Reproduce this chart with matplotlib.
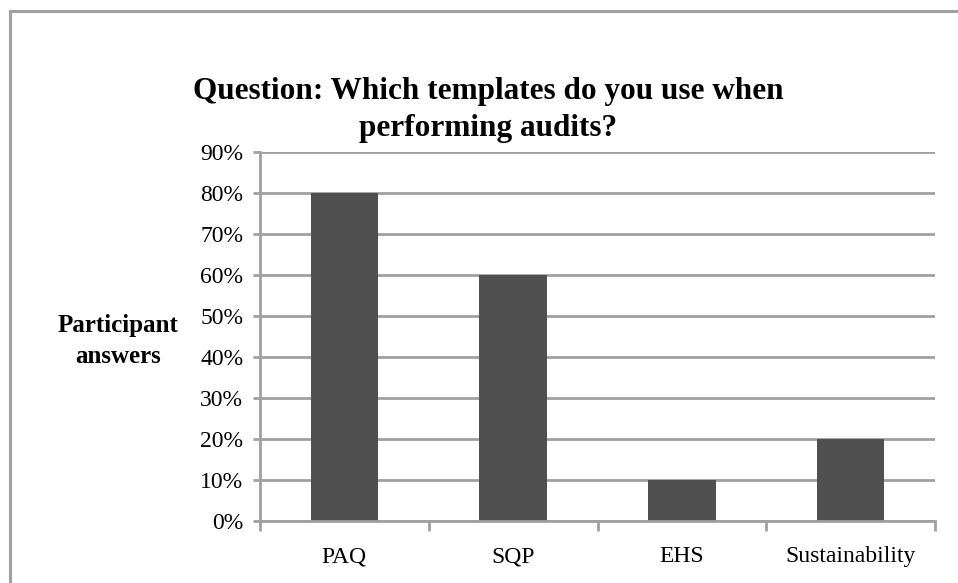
import matplotlib
matplotlib.use("Agg")
import matplotlib.pyplot as plt
from matplotlib.patches import Rectangle

categories = ["PAQ", "SQP", "EHS", "Sustainability"]
values = [80, 60, 10, 20]
yticks = [0, 10, 20, 30, 40, 50, 60, 70, 80, 90]
ytick_labels = [f"{v}%" for v in yticks]

W, H = 958, 583
fig = plt.figure(figsize=(W / 100, H / 100), dpi=100)
fig.patch.set_facecolor("white")

serif = ["Liberation Serif", "DejaVu Serif"]

# outer chart border
fig.patches.append(Rectangle((9.5 / W, -0.05), 1.2, 1 - 10.5 / H + 0.05,
                             transform=fig.transFigure, fill=False,
                             edgecolor="#a0a0a0", linewidth=2.2))

left, right, top, bottom = 260, 935, 152, 521
ax = fig.add_axes([left / W, 1 - bottom / H, (right - left) / W, (bottom - top) / H])

grid_c = "#a0a0a0"
x = list(range(len(categories)))
ax.bar(x, values, width=0.4, color="#505050", zorder=3)
ax.set_xlim(-0.5, len(categories) - 0.5)
ax.set_ylim(0, 90)
ax.set_yticks(yticks)
ax.set_yticklabels(ytick_labels, fontfamily=serif, fontsize=17)
ax.set_xticks(x)
ax.set_xticklabels(categories, fontfamily=serif, fontsize=17)
ax.tick_params(axis="x", length=0, pad=18)
ax.tick_params(axis="y", length=5, width=2, color=grid_c, pad=7, direction="out")
ax.set_xticks([i - 0.5 for i in range(len(categories) + 1)], minor=True)
ax.tick_params(axis="x", which="minor", length=7, width=2, color=grid_c, direction="out")
ax.grid(axis="y", color=grid_c, linewidth=2, zorder=0)
for s in ["top", "right"]:
    ax.spines[s].set_visible(False)
for s in ["left", "bottom"]:
    ax.spines[s].set_color(grid_c)
    ax.spines[s].set_linewidth(2)
    ax.spines[s].set_zorder(4)

ax.set_ylabel("Participant\nanswers", rotation=0, fontfamily=serif, fontsize=18,
              fontweight="bold", ha="center", va="center", labelpad=0, linespacing=1.45)
ax.yaxis.set_label_coords((118 - left) / (right - left), (bottom - 341) / (bottom - top))

fig.text(488 / W, 1 - 110 / H, "Question: Which templates do you use when\nperforming audits?",
         ha="center", va="center", fontfamily=serif, fontsize=22.5, fontweight="bold",
         linespacing=1.35)

fig.savefig("out.png", dpi=100)
